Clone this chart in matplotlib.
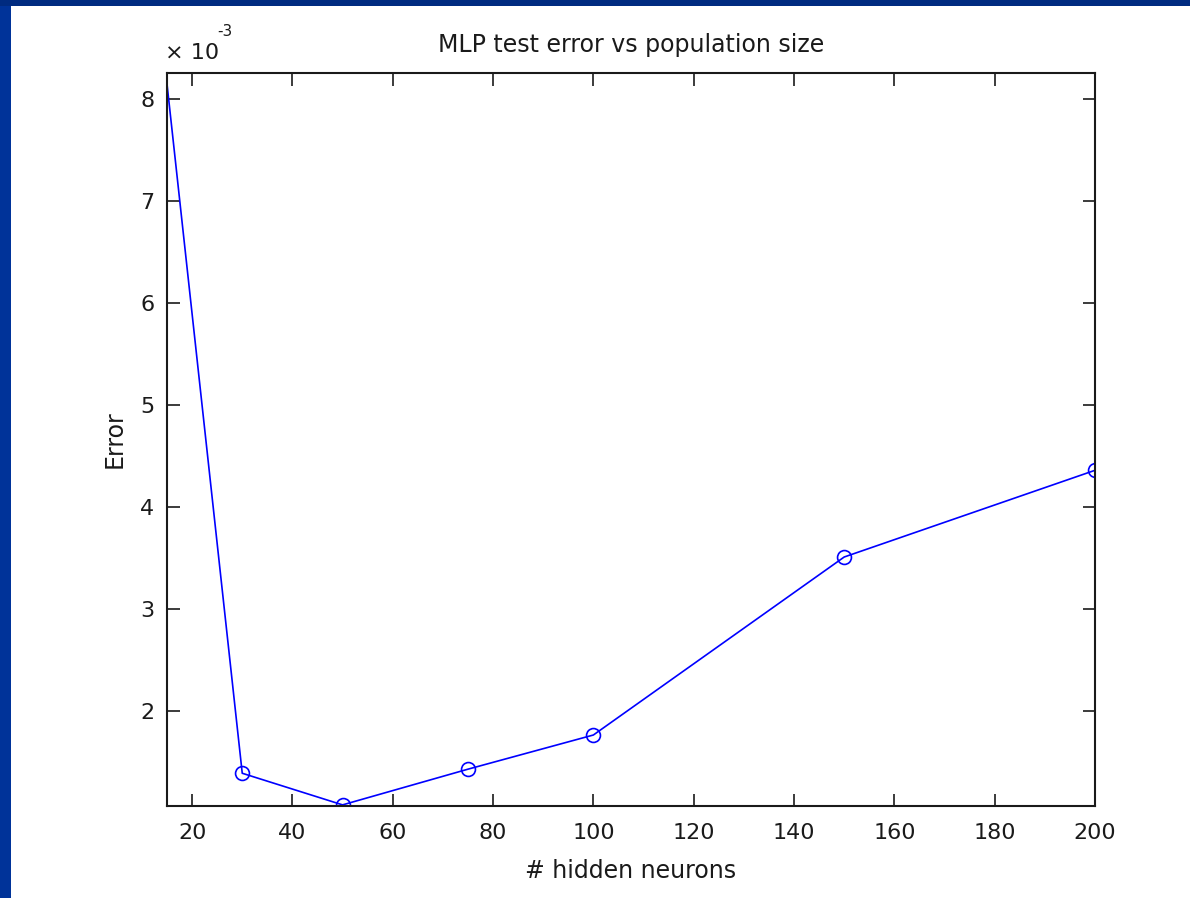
import matplotlib
matplotlib.use("Agg")
import matplotlib.pyplot as plt
from matplotlib.patches import Rectangle
from matplotlib.ticker import FuncFormatter

hidden_neurons = [10, 30, 50, 75, 100, 150, 200]
test_error = [10.4e-3, 1.39e-3, 1.08e-3, 1.43e-3, 1.765e-3, 3.51e-3, 4.36e-3]
x_ticks = [20, 40, 60, 80, 100, 120, 140, 160, 180, 200]
y_ticks = [2e-3, 3e-3, 4e-3, 5e-3, 6e-3, 7e-3, 8e-3]

plt.rcParams['font.family'] = ['DejaVu Sans']

fig = plt.figure(figsize=(11.9, 8.98), dpi=100)
fig.patch.set_facecolor('white')
# blue slide frame
fig.patches.append(Rectangle((0, 0), 11 / 1190, 1, transform=fig.transFigure,
                             facecolor='#003399', edgecolor='none', zorder=0))
fig.patches.append(Rectangle((0, 1 - 6 / 898), 1, 6 / 898, transform=fig.transFigure,
                             facecolor='#002b80', edgecolor='none', zorder=0))

ax = fig.add_axes([167 / 1190, 1 - 806 / 898, (1095 - 167) / 1190, (806 - 73) / 898])
ax.plot(hidden_neurons, test_error, color='#0000ff', linewidth=1.2,
        marker='o', markersize=10, markerfacecolor='none', markeredgewidth=1.2,
        clip_on=True)
ax.set_xlim(15, 200)
ax.set_ylim(1.069e-3, 8.255e-3)
ax.set_xticks(x_ticks)
ax.set_yticks(y_ticks)
ax.yaxis.set_major_formatter(FuncFormatter(lambda v, p: f"{v * 1e3:g}"))
ax.tick_params(direction='in', length=9, width=1.2, top=True, right=True,
               labelsize=16, colors='#1a1a1a')
ax.tick_params(axis='x', pad=12)
ax.tick_params(axis='y', pad=9)
for s in ax.spines.values():
    s.set_linewidth(1.5)
    s.set_color('#1a1a1a')

ax.set_title('MLP test error vs population size', fontsize=17, pad=15, color='#1a1a1a')
ax.set_xlabel('# hidden neurons', fontsize=17, labelpad=12, color='#1a1a1a')
ax.set_ylabel('Error', fontsize=17, labelpad=10, color='#1a1a1a')

# exponent label
fig.text(165 / 1190, 1 - 53 / 898, '\u00d7 10', fontsize=16, ha='left', va='center', color='#1a1a1a')
fig.text(217 / 1190, 1 - 31 / 898, '-3', fontsize=11, ha='left', va='center', color='#1a1a1a')

fig.savefig('out.png', dpi=100, facecolor=fig.get_facecolor())
